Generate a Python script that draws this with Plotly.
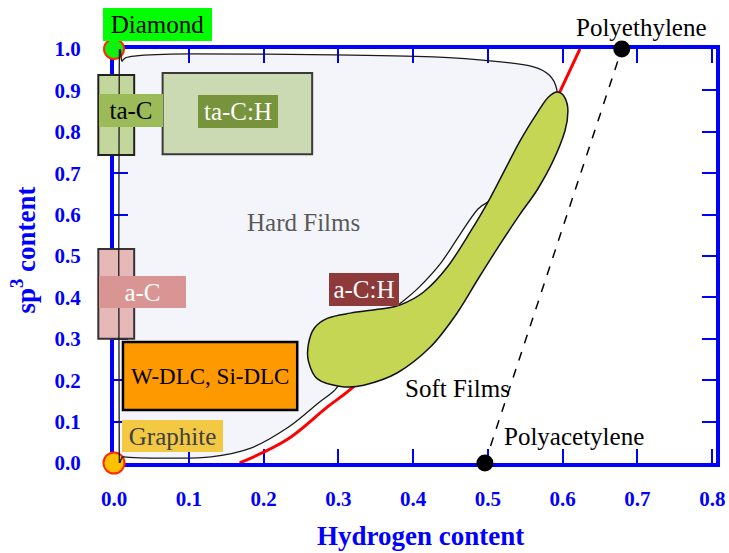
import plotly.graph_objects as go

# ---------------- data ----------------
x_ticks = [0.0, 0.1, 0.2, 0.3, 0.4, 0.5, 0.6, 0.7, 0.8]
x_ticklabels = ["0.0", "0.1", "0.2", "0.3", "0.4", "0.5", "0.6", "0.7", "0.8"]
y_ticks = [0.0, 0.1, 0.2, 0.3, 0.4, 0.5, 0.6, 0.7, 0.8, 0.9, 1.0]
y_ticklabels = ["0.0", "0.1", "0.2", "0.3", "0.4", "0.5", "0.6", "0.7", "0.8", "0.9", "1.0"]

X_RANGE = [0.0, 0.805]
Y_RANGE = [0.0, 1.0]

# Hard films region boundary (H content, sp3 content)
hard_x = [0.007, 0.011, 0.027, 0.099, 0.294, 0.427, 0.517, 0.561, 0.582, 0.592,
          0.589, 0.567, 0.537, 0.510, 0.487, 0.463, 0.437, 0.407, 0.383, 0.357,
          0.323, 0.303, 0.294, 0.272, 0.232, 0.183, 0.130, 0.072, 0.013, 0.007]
hard_y = [0.947, 0.971, 0.983, 0.988, 0.986, 0.981, 0.969, 0.957, 0.937, 0.903,
          0.879, 0.814, 0.722, 0.645, 0.614, 0.553, 0.483, 0.423, 0.386, 0.348,
          0.283, 0.198, 0.174, 0.143, 0.085, 0.036, 0.015, 0.012, 0.015, 0.029]

# a-C:H band
blob_x = [0.593, 0.603, 0.607, 0.603, 0.587, 0.566, 0.543, 0.515, 0.487, 0.458,
          0.423, 0.379, 0.334, 0.303, 0.272, 0.260, 0.260, 0.268, 0.286, 0.316,
          0.356, 0.383, 0.414, 0.446, 0.477, 0.503, 0.543, 0.570, 0.581]
blob_y = [0.896, 0.882, 0.850, 0.802, 0.729, 0.660, 0.601, 0.525, 0.445, 0.360,
          0.280, 0.218, 0.188, 0.185, 0.203, 0.246, 0.287, 0.326, 0.350, 0.362,
          0.372, 0.382, 0.413, 0.474, 0.560, 0.640, 0.778, 0.857, 0.884]

# "no films" limit (red)
red_x = [0.168, 0.231, 0.285, 0.320, 0.400, 0.480, 0.550, 0.596, 0.623]
red_y = [0.000, 0.056, 0.135, 0.184, 0.330, 0.520, 0.720, 0.896, 1.000]

# polyacetylene -> polyethylene
poly_x = [0.496, 0.679]
poly_y = [0.0, 1.0]

diamond_pt = (0.0, 1.0)
graphite_pt = (0.0, 0.0)

# region boxes: name, x0, x1, y0, y1
box_names = ["ta-C", "ta-C:H", "a-C", "W-DLC"]
box_x0 = [-0.021, 0.065, -0.021, 0.012]
box_x1 = [0.027, 0.265, 0.027, 0.245]
box_y0 = [0.744, 0.746, 0.300, 0.128]
box_y1 = [0.937, 0.942, 0.517, 0.292]
box_fill = ["#c3d69b", "#ccdab4", "#e6b9b8", "#ff9900"]
box_line = ["#222222", "#3a3a3a", "#333333", "#000000"]

# text labels: text, x, y, bg, color, w, h, size
lab_text = ["Diamond", "Polyethylene", "Polyacetylene", "Hard Films", "Soft Films",
            "a-C:H", "W-DLC, Si-DLC", "Graphite", "a-C", "ta-C", "ta-C:H"]
lab_x = [0.058, 0.706, 0.615, 0.253, 0.459, 0.334, 0.128, 0.078, 0.038, 0.0227, 0.166]
lab_y = [1.059, 1.053, 0.063, 0.582, 0.181, 0.419, 0.210, 0.065, 0.413, 0.851, 0.849]
lab_bg = ["#00ff00", None, None, None, None, "#8e3a3a", None, "#f3c843", "#d99594",
          "#9bbb59", "#77933c"]
lab_color = ["#000000", "#000000", "#000000", "#595959", "#000000", "#ffffff",
             "#000000", "#404040", "#ffffff", "#000000", "#ffffff"]
lab_w = [109, None, None, None, None, 70, None, 101, 87, 64, 80]
lab_h = [33, None, None, None, None, 33, None, 32, 32, 33, 33]
lab_size = [25, 25, 25, 25, 25, 25, 23, 25, 25, 25, 25]

# ---------------- helpers ----------------
SERIF = "Liberation Serif, Times New Roman, serif"
BLUE = "#0000ff"


def smooth_closed_path(xs, ys):
    n = len(xs)
    pts = list(zip(xs, ys))
    d = "M {:.4f},{:.4f}".format(*pts[0])
    for i in range(n):
        p0 = pts[(i - 1) % n]
        p1 = pts[i]
        p2 = pts[(i + 1) % n]
        p3 = pts[(i + 2) % n]
        c1 = (p1[0] + (p2[0] - p0[0]) / 6, p1[1] + (p2[1] - p0[1]) / 6)
        c2 = (p2[0] - (p3[0] - p1[0]) / 6, p2[1] - (p3[1] - p1[1]) / 6)
        d += " C {:.4f},{:.4f} {:.4f},{:.4f} {:.4f},{:.4f}".format(
            c1[0], c1[1], c2[0], c2[1], p2[0], p2[1])
    return d + " Z"


def to_xdomain(v):
    return (v - X_RANGE[0]) / (X_RANGE[1] - X_RANGE[0])


def to_ydomain(v):
    return (v - Y_RANGE[0]) / (Y_RANGE[1] - Y_RANGE[0])


fig = go.Figure()

# red boundary
fig.add_trace(go.Scatter(x=red_x, y=red_y, mode="lines",
                         line=dict(color="#ff0000", width=3, shape="spline"),
                         hoverinfo="skip", showlegend=False))
# dashed polymer line
fig.add_trace(go.Scatter(x=poly_x, y=poly_y, mode="lines+markers",
                         line=dict(color="#000000", width=1.5, dash="dash"),
                         marker=dict(color="#000000", size=17),
                         cliponaxis=False, hoverinfo="skip", showlegend=False))
# diamond & graphite points
fig.add_trace(go.Scatter(x=[diamond_pt[0]], y=[diamond_pt[1]], mode="markers",
                         marker=dict(color="#11ee11", size=20,
                                     line=dict(color="#ff2a00", width=2)),
                         cliponaxis=False, hoverinfo="skip", showlegend=False))
fig.add_trace(go.Scatter(x=[graphite_pt[0]], y=[graphite_pt[1]], mode="markers",
                         marker=dict(color="#ffc000", size=21,
                                     line=dict(color="#ff2a00", width=2)),
                         cliponaxis=False, hoverinfo="skip", showlegend=False))

hard_path = smooth_closed_path(hard_x, hard_y)
blob_path = smooth_closed_path(blob_x, blob_y)

shapes = []
# hard films fill (below everything)
shapes.append(dict(type="path", path=hard_path, xref="x", yref="y", layer="below",
                   fillcolor="#f4f5fa", line=dict(width=0)))
# region boxes
for i in range(len(box_names)):
    if box_x0[i] < X_RANGE[0]:
        xref = "x domain"
        x0, x1 = to_xdomain(box_x0[i]), to_xdomain(box_x1[i])
    else:
        xref = "x"
        x0, x1 = box_x0[i], box_x1[i]
    shapes.append(dict(type="rect", xref=xref, yref="y", x0=x0, x1=x1,
                       y0=box_y0[i], y1=box_y1[i], layer="above",
                       fillcolor=box_fill[i],
                       line=dict(color=box_line[i], width=2.5 if i == 3 else 2)))
# hard films outline
shapes.append(dict(type="path", path=hard_path, xref="x", yref="y", layer="above",
                   fillcolor="rgba(0,0,0,0)", line=dict(color="#1a1a1a", width=1.3)))
# a-C:H band
shapes.append(dict(type="path", path=blob_path, xref="x", yref="y", layer="above",
                   fillcolor="#c5d654", line=dict(color="#111111", width=1.5)))

annotations = []
for i, t in enumerate(lab_text):
    outside = lab_y[i] > Y_RANGE[1]
    a = dict(x=lab_x[i], xref="x",
             y=to_ydomain(lab_y[i]) if outside else lab_y[i],
             yref="y domain" if outside else "y",
             text=t, showarrow=False,
             font=dict(family=SERIF, size=lab_size[i], color=lab_color[i]),
             xanchor="center", yanchor="middle", borderpad=0, borderwidth=0)
    if lab_bg[i]:
        a["bgcolor"] = lab_bg[i]
    if lab_w[i]:
        a["width"] = lab_w[i]
        a["height"] = lab_h[i]
    annotations.append(a)

# axis titles
annotations.append(dict(x=0.509, y=0, xref="paper", yref="paper", yshift=-56,
                        xanchor="center", yanchor="top", showarrow=False,
                        text="<b>Hydrogen content</b>",
                        font=dict(family=SERIF, size=27, color=BLUE)))
annotations.append(dict(x=0, y=0.513, xref="paper", yref="paper", xshift=-91,
                        xanchor="center", yanchor="middle", showarrow=False,
                        textangle=-90, text="<b>sp<sup>3</sup> content</b>",
                        font=dict(family=SERIF, size=27, color=BLUE)))

axis_common = dict(showgrid=False, zeroline=False, showline=True, linecolor=BLUE,
                   linewidth=4, mirror="ticks", ticks="inside", ticklen=14,
                   tickwidth=2, tickcolor=BLUE, layer="below traces",
                   automargin=False,
                   tickfont=dict(family=SERIF, size=21, color=BLUE, weight="bold"))

fig.update_layout(
    width=729, height=553,
    margin=dict(l=114, r=13, t=49, b=90, autoexpand=False),
    paper_bgcolor="#ffffff", plot_bgcolor="#ffffff",
    shapes=shapes, annotations=annotations,
    xaxis=dict(range=X_RANGE, tickvals=x_ticks, ticktext=x_ticklabels,
               ticklabelstandoff=14, **axis_common),
    yaxis=dict(range=Y_RANGE, tickvals=y_ticks, ticktext=y_ticklabels,
               ticklabelstandoff=25, **axis_common),
)

# remove the browser's default page margin so the figure sits at the window origin
fig.write_html("out.html", config={"displayModeBar": False},
               post_script="document.body.style.margin='0';document.body.style.overflow='hidden';")
